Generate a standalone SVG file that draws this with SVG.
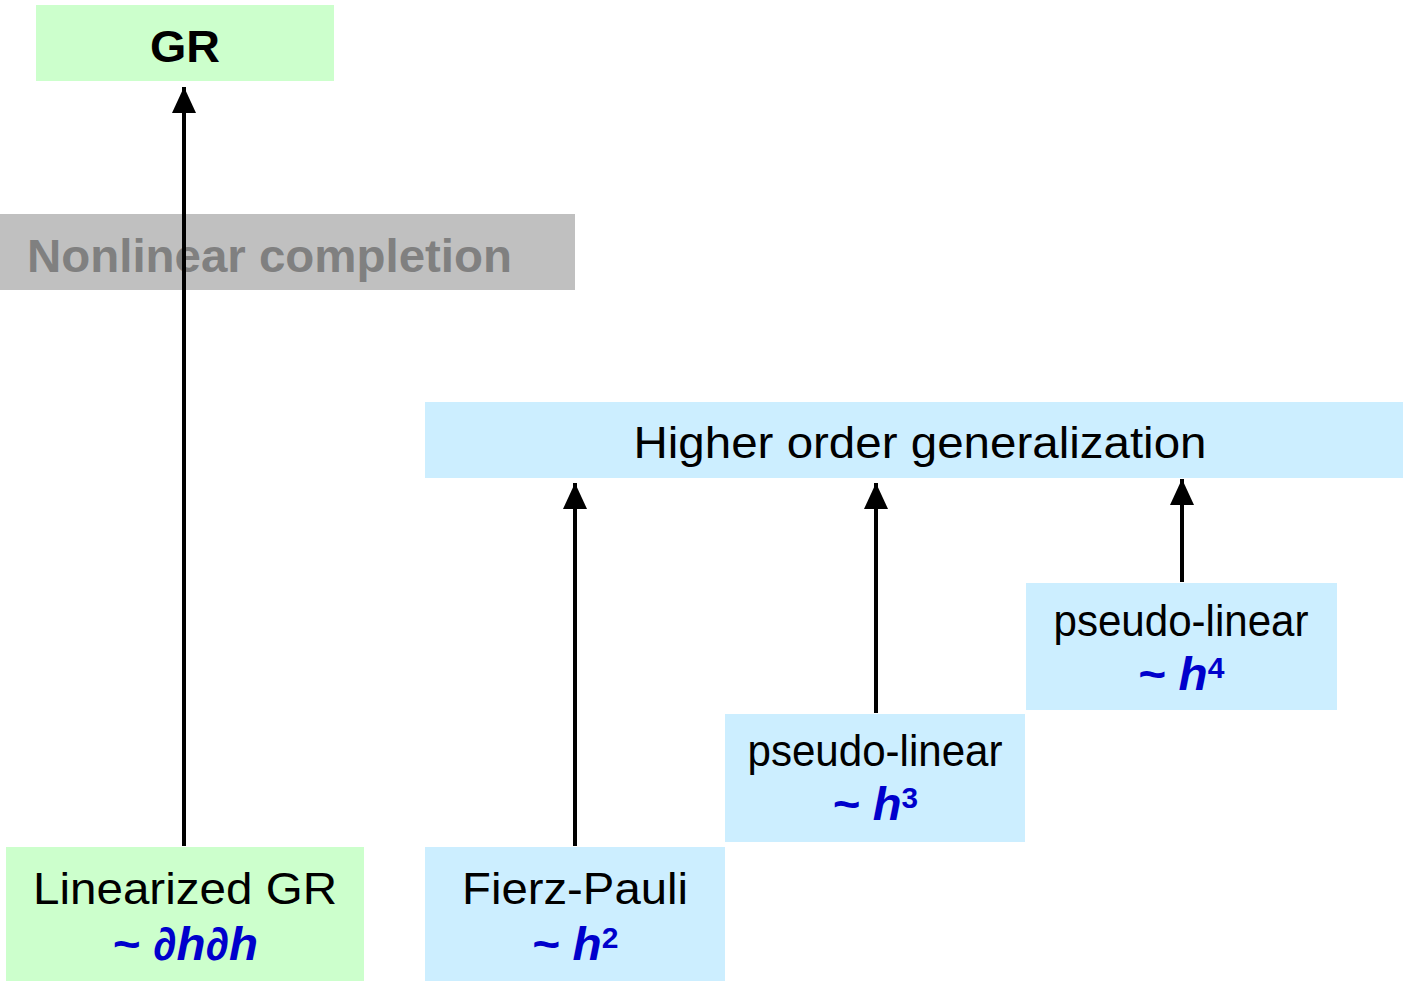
<svg xmlns="http://www.w3.org/2000/svg" width="1403" height="983" viewBox="0 0 1403 983">
<defs>
<style>
.green{fill:#ccffcc}
.blue{fill:#cceeff}
.t{font-family:"Liberation Sans",Arial,sans-serif;font-size:45px;fill:#000;text-anchor:middle}
.m{font-family:"Liberation Sans",Arial,sans-serif;font-size:46px;font-weight:bold;font-style:italic;fill:#0000cc;text-anchor:middle}
.sup{font-size:29px;font-style:normal}
.edge{stroke:#000;stroke-width:4;fill:none;marker-end:url(#ah)}
</style>
<marker id="ah" markerUnits="userSpaceOnUse" markerWidth="26" markerHeight="28" viewBox="0 0 26 28" refX="26" refY="12" orient="auto">
<polygon points="0,0 26,12 0,24" fill="#000"/>
</marker>
</defs>
<rect width="1403" height="983" fill="#fff"/>
<g id="nonlinear">
<rect x="0" y="214" width="575" height="76" fill="#c0c0c0"/>
<text x="27" y="272" font-family="Liberation Sans,Arial,sans-serif" font-size="47" font-weight="bold" fill="#808080" textLength="485" lengthAdjust="spacingAndGlyphs">Nonlinear completion</text>
</g>
<g id="gr">
<rect class="green" x="36" y="5" width="298" height="76"/>
<text x="185" y="62" class="t" font-size="47" font-weight="bold" textLength="70" lengthAdjust="spacingAndGlyphs">GR</text>
</g>
<g id="higher">
<rect class="blue" x="425" y="402" width="978" height="76"/>
<text x="920" y="458" class="t" textLength="573" lengthAdjust="spacingAndGlyphs">Higher order generalization</text>
</g>
<g id="linearized">
<rect class="green" x="6" y="847" width="358" height="134"/>
<text x="185" y="904" class="t" textLength="304" lengthAdjust="spacingAndGlyphs">Linearized GR</text>
<text x="185" y="960" class="m" textLength="146" lengthAdjust="spacingAndGlyphs">~ ∂h∂h</text>
</g>
<g id="fierz">
<rect class="blue" x="425" y="847" width="300" height="134"/>
<text x="575" y="904" class="t" textLength="226" lengthAdjust="spacingAndGlyphs">Fierz-Pauli</text>
<text x="575" y="960" class="m" textLength="87" lengthAdjust="spacingAndGlyphs">~ h<tspan class="sup" dy="-12">2</tspan></text>
</g>
<g id="pl3">
<rect class="blue" x="725" y="714" width="300" height="128"/>
<text x="875" y="766" class="t" textLength="255" lengthAdjust="spacingAndGlyphs">pseudo-linear</text>
<text x="875" y="820" class="m" textLength="86" lengthAdjust="spacingAndGlyphs">~ h<tspan class="sup" dy="-12">3</tspan></text>
</g>
<g id="pl4">
<rect class="blue" x="1026" y="583" width="311" height="127"/>
<text x="1181" y="636" class="t" textLength="255" lengthAdjust="spacingAndGlyphs">pseudo-linear</text>
<text x="1181" y="690" class="m" textLength="87" lengthAdjust="spacingAndGlyphs">~ h<tspan class="sup" dy="-12">4</tspan></text>
</g>
<g id="connectors">
<line class="edge" x1="184" y1="846" x2="184" y2="87"/>
<line class="edge" x1="575" y1="846" x2="575" y2="483"/>
<line class="edge" x1="876" y1="713" x2="876" y2="483"/>
<line class="edge" x1="1182" y1="582" x2="1182" y2="479"/>
</g>
</svg>
